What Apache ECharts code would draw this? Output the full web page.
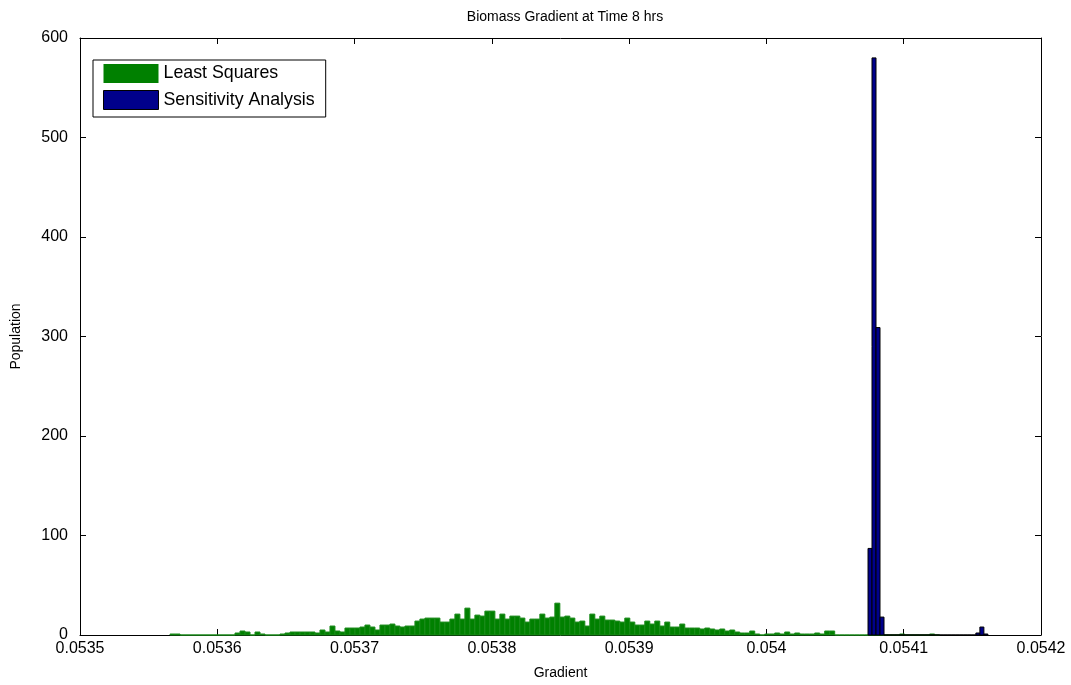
<!DOCTYPE html>
<html>
<head>
<meta charset="utf-8">
<script src="https://cdn.jsdelivr.net/npm/echarts@6/dist/echarts.min.js"></script>
<style>html,body{margin:0;padding:0;background:#fff}#c{width:1071px;height:685px}</style>
</head>
<body>
<div id="c"></div>
<script>
// Histogram data
const seriesNames = ['Least Squares', 'Sensitivity Analysis'];
const greenBinStart = 0.0535656;
const greenBinWidth = 0.00000364;
const greenCounts = [1,1,0,0,0,0,0,0,0,0,0,0,0,2,4,3,0,3,1,0,0,0,1,2,3,3,3,3,3,2,5,3,9,4,3,7,7,7,8,10,8,5,10,10,11,9,8,9,9,14,16,17,17,17,13,13,16,21,16,27,16,20,19,24,24,16,21,16,19,19,17,13,16,16,21,17,18,32,18,19,17,13,14,9,21,16,19,15,15,14,13,17,13,10,10,14,11,14,9,13,8,8,11,7,7,7,6,7,6,5,6,4,5,3,2,2,4,1,0,1,1,2,1,3,1,2,1,1,1,2,1,4,4,0,0,0,0,0,0,0,0,0,0,0,0,0,1,0,0,0,0,0,1,0];
const blueBinStart = 0.054074;
const blueBinWidth = 0.00000291;
const blueCounts = [87,580,309,18,0,0,0,0,0,0,0,0,0,0,0,0,0,0,0,0,0,0,0,0,0,0,0,2,8,1];
const xTicks = [0.0535,0.0536,0.0537,0.0538,0.0539,0.054,0.0541,0.0542];
const yTicks = [0,100,200,300,400,500,600];

function toBins(start, width, counts){
  return counts.map((c,i)=>[start + i*width, start + (i+1)*width, c]);
}
const greenData = toBins(greenBinStart, greenBinWidth, greenCounts);
const blueData = toBins(blueBinStart, blueBinWidth, blueCounts);

function makeRender(fill, stroke){
  return function(params, api){
    const p0 = api.coord([api.value(0), api.value(2)]);
    const p1 = api.coord([api.value(1), 0]);
    return {type:'rect', shape:{x:p0[0], y:p0[1], width:p1[0]-p0[0], height:p1[1]-p0[1]},
      style:{fill:fill, stroke:stroke, lineWidth:1}};
  };
}
const font = 'Liberation Sans, Arial, sans-serif';
const chart = echarts.init(document.getElementById('c'), null, {renderer:'canvas'});
const fmt = v => String(Number(v.toFixed(4)));
const xCommon = {type:'value', min:xTicks[0], max:xTicks[xTicks.length-1], interval:0.0001,
  axisLine:{show:true, onZero:false, lineStyle:{color:'#000', width:1}},
  axisTick:{show:true, inside:true, length:6, lineStyle:{color:'#000'}},
  splitLine:{show:false}};
const yCommon = {type:'value', min:yTicks[0], max:yTicks[yTicks.length-1], interval:100,
  axisLine:{show:true, onZero:false, lineStyle:{color:'#000', width:1}},
  axisTick:{show:true, inside:true, length:6, lineStyle:{color:'#000'}},
  splitLine:{show:false}};
chart.setOption({
  animation:false,
  backgroundColor:'#fff',
  textStyle:{fontFamily:font},
  title:{text:'Biomass Gradient at Time 8 hrs', left:560, top:5, textAlign:'center',
    textStyle:{fontSize:14, fontWeight:'normal', color:'#000', fontFamily:font}},
  grid:{left:80, right:30, top:38, bottom:47},
  legend:{orient:'vertical', left:93, top:60, itemWidth:55, itemHeight:19, itemGap:7,
    padding:[4,11,7,10], borderColor:'#000', borderWidth:1, backgroundColor:'#fff',
    textStyle:{fontSize:17.8, color:'#000', fontFamily:font},
    data:[{name:seriesNames[0], icon:'rect', itemStyle:{color:'#008000', borderWidth:0}},
          {name:seriesNames[1], icon:'rect', itemStyle:{color:'#00008b', borderColor:'#000', borderWidth:1}}]},
  xAxis:[
    Object.assign({}, xCommon, {position:'bottom', name:'Gradient', nameLocation:'middle', nameGap:31,
      nameTextStyle:{fontSize:14, color:'#000', fontFamily:font},
      axisLabel:{show:true, color:'#000', fontSize:16, margin:6, formatter:fmt, fontFamily:font}}),
    Object.assign({}, xCommon, {position:'top', axisLabel:{show:false}})
  ],
  yAxis:[
    Object.assign({}, yCommon, {position:'left', name:'Population', nameLocation:'middle', nameGap:57,
      nameTextStyle:{fontSize:14, color:'#000', fontFamily:font},
      axisLabel:{show:true, color:'#000', fontSize:16, margin:12, fontFamily:font}}),
    Object.assign({}, yCommon, {position:'right', axisLabel:{show:false}})
  ],
  series:[
    {name:seriesNames[0], type:'custom', xAxisIndex:0, yAxisIndex:0, data:greenData,
      encode:{x:[0,1], y:2}, itemStyle:{color:'#008000'}, renderItem:makeRender('#008000', '#1a8a1a')},
    {name:seriesNames[1], type:'custom', xAxisIndex:0, yAxisIndex:0, data:blueData,
      encode:{x:[0,1], y:2}, itemStyle:{color:'#00008b'}, renderItem:makeRender('#00008b', '#000')}
  ]
});
</script>
</body>
</html>
